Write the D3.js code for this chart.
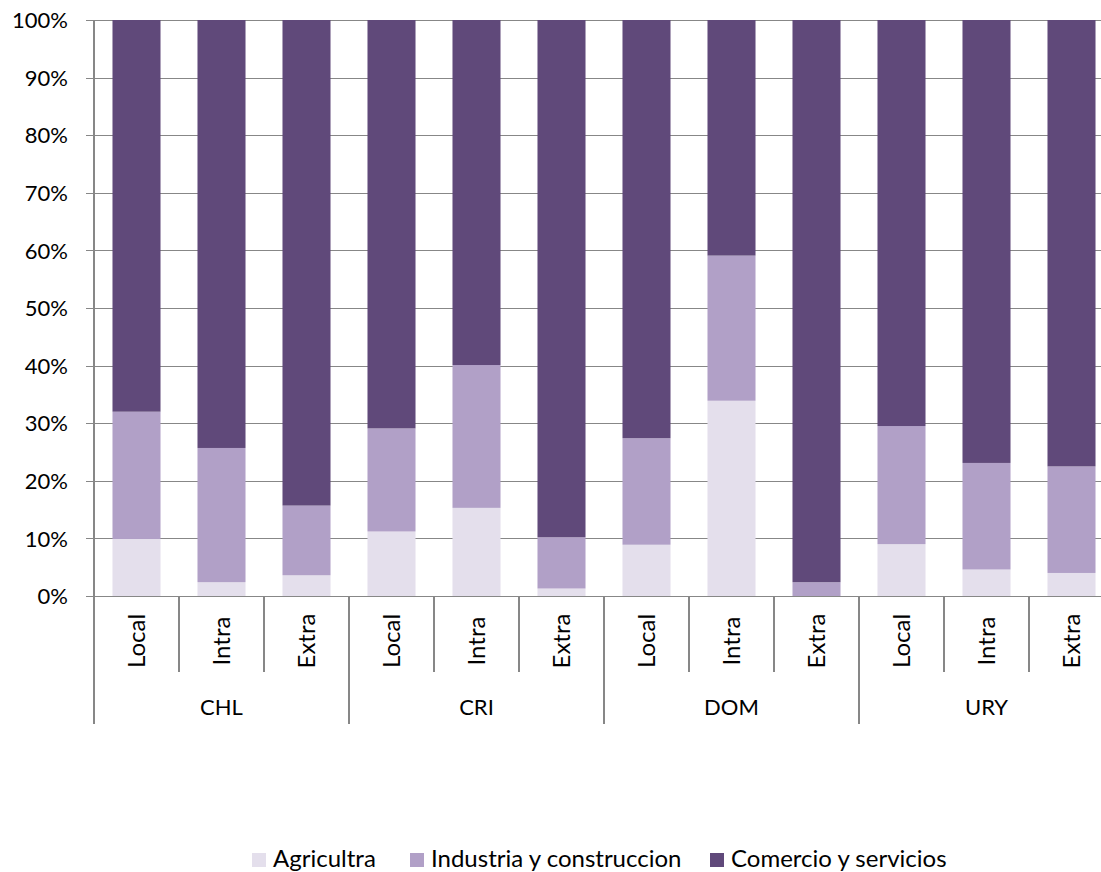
<!DOCTYPE html>
<meta charset="utf-8">
<style>
body { margin: 0; background: #fff; }
svg text { font-family: Lato, "Open Sans", sans-serif; fill: #000; }
.grid line { stroke: #878787; stroke-width: 1; shape-rendering: crispEdges; }
.grid path { display: none; }
.yax path { display: none; }
.yax line { stroke: #878787; shape-rendering: crispEdges; }
.cat line { stroke: #878787; stroke-width: 1.3; shape-rendering: crispEdges; }
</style>
<body>
<script src="https://cdn.jsdelivr.net/npm/d3@7"></script>
<script>

var width = 1101,
    height = 872;

// data (percent)
var groups = ["CHL", "CRI", "DOM", "URY"];
var flows = ["Local", "Intra", "Extra"];
var agricultura = [9.9, 2.4, 3.6, 11.2, 15.3, 1.3, 8.9, 33.9, 0.0, 9.0, 4.6, 4.0];
var industria   = [22.1, 23.3, 12.1, 17.9, 24.8, 8.9, 18.5, 25.2, 2.4, 20.5, 18.5, 18.5];
var comercio    = [68.0, 74.3, 84.3, 70.9, 59.9, 89.8, 72.6, 40.9, 97.6, 70.5, 76.9, 77.5];
var seriesNames = ["Agricultra", "Industria y construccion", "Comercio y servicios"];
var seriesColors = ["#e4dfec", "#b1a0c7", "#60497a"];
var yTicks = [0, 10, 20, 30, 40, 50, 60, 70, 80, 90, 100];

var plotLeft = 94, plotTop = 20, plotBottom = 596;
var plotRight = plotLeft + 85 * groups.length * flows.length;   // runs past the edge

var rows = [];
groups.forEach(function(g, gi) {
  flows.forEach(function(f, fi) {
    var i = gi * flows.length + fi;
    rows.push({id: i, group: g, flow: f, a: agricultura[i], b: industria[i], c: comercio[i]});
  });
});

var svg = d3.select("body").append("svg")
    .attr("width", width)
    .attr("height", height);

var x = d3.scaleBand()
    .domain(rows.map(function(d) { return d.id; }))
    .range([plotLeft, plotRight])
    .paddingInner(0.435)
    .paddingOuter(0.2175);

var y = d3.scaleLinear().domain([0, 100]).range([plotBottom, plotTop]);

// gridlines
svg.append("g")
    .attr("class", "grid")
    .attr("transform", "translate(" + plotLeft + ",0)")
    .call(d3.axisLeft(y).tickValues(yTicks).tickSize(-(width - plotLeft)).tickFormat(""));

// y tick marks + labels
svg.append("g")
    .attr("class", "yax")
    .attr("transform", "translate(" + plotLeft + ",0)")
    .call(d3.axisLeft(y).tickValues(yTicks).tickSize(8).tickPadding(18)
      .tickFormat(function(d) { return d + "%"; }))
    .selectAll("text")
      .style("font-size", "22px")
      .attr("dy", "0.35em");

// stacked bars
var stack = d3.stack().keys(["a", "b", "c"]);
var layers = stack(rows);

svg.append("g").selectAll("g")
    .data(layers)
  .enter().append("g")
    .attr("fill", function(d, i) { return seriesColors[i]; })
  .selectAll("rect")
    .data(function(d) { return d; })
  .enter().append("rect")
    .attr("x", function(d) { return x(d.data.id); })
    .attr("width", x.bandwidth())
    .attr("y", function(d) { return y(d[1]); })
    .attr("height", function(d) { return y(d[0]) - y(d[1]); });

// category axis (two levels)
var step = x.step();
var cat = svg.append("g").attr("class", "cat");
var axisY = Math.round(y(0)) + 0.5;

cat.append("line")
    .attr("x1", plotLeft - 8).attr("x2", width)
    .attr("y1", axisY).attr("y2", axisY);

cat.selectAll("line.inner")
    .data(rows.filter(function(d, i) { return i % flows.length != 0; }))
  .enter().append("line")
    .attr("class", "inner")
    .attr("x1", function(d) { return x(d.id) - step * 0.2175; })
    .attr("x2", function(d) { return x(d.id) - step * 0.2175; })
    .attr("y1", axisY).attr("y2", 672);

cat.selectAll("line.outer")
    .data(d3.range(groups.length + 1))
  .enter().append("line")
    .attr("class", "outer")
    .attr("x1", function(i) { return plotLeft + i * step * flows.length; })
    .attr("x2", function(i) { return plotLeft + i * step * flows.length; })
    .attr("y1", function(i) { return i == 0 ? plotTop : axisY; })
    .attr("y2", 724);

cat.selectAll("text.flow")
    .data(rows)
  .enter().append("text")
    .attr("class", "flow")
    .attr("transform", function(d) {
      return "translate(" + (x(d.id) + x.bandwidth() / 2) + ",641) rotate(-90)";
    })
    .attr("text-anchor", "middle")
    .attr("dy", "0.35em")
    .style("font-size", "24px")
    .text(function(d) { return d.flow; });

cat.selectAll("text.group")
    .data(groups)
  .enter().append("text")
    .attr("class", "group")
    .attr("x", function(g, i) { return plotLeft + (i + 0.5) * step * flows.length; })
    .attr("y", 715)
    .attr("text-anchor", "middle")
    .style("font-size", "22px")
    .text(function(g) { return g; });

// legend
var legendX = [252, 410, 710];
var legend = svg.selectAll("g.legend")
    .data(seriesNames)
  .enter().append("g")
    .attr("class", "legend")
    .attr("transform", function(d, i) { return "translate(" + legendX[i] + ",853)"; });

legend.append("rect")
    .attr("width", 14)
    .attr("height", 14)
    .attr("fill", function(d, i) { return seriesColors[i]; });

legend.append("text")
    .attr("x", 21)
    .attr("y", 14)
    .style("font-size", "24px")
    .text(function(d) { return d; });

</script>
